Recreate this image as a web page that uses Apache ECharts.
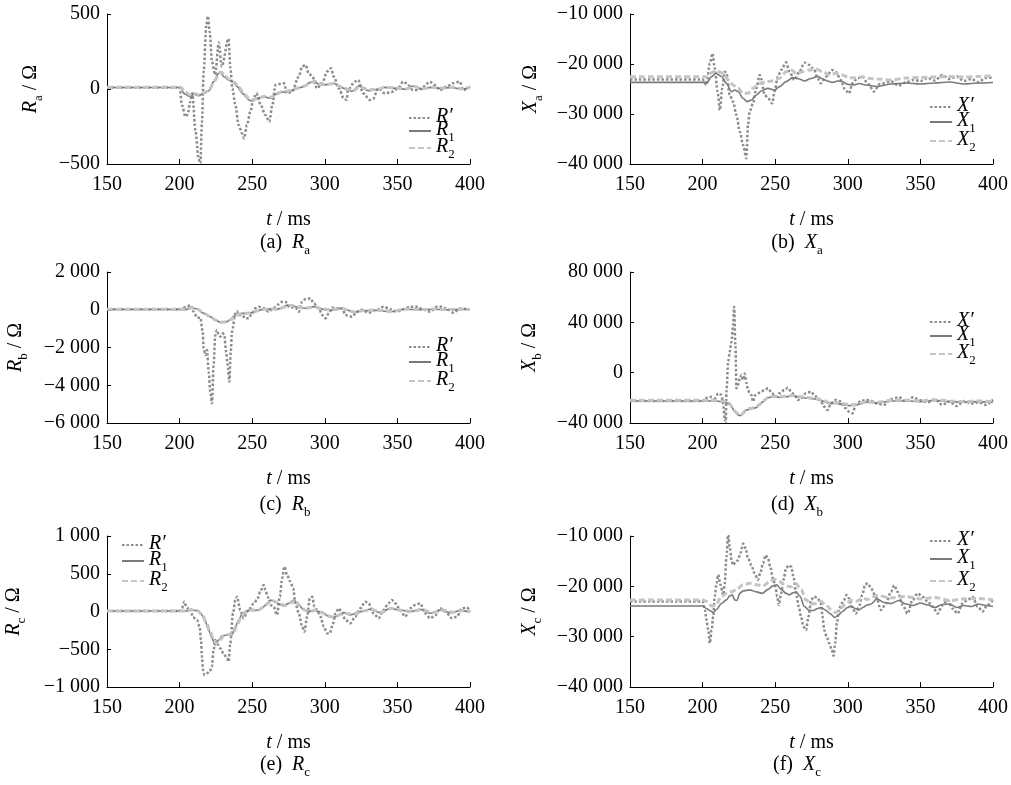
<!DOCTYPE html>
<html lang="zh">
<head>
<meta charset="UTF-8">
<title>R / X 波形</title>
<style>
    html, body { margin: 0; padding: 0; background: #fff; }
    #main { width: 1011px; height: 785px; }
</style>
<script src="https://cdn.jsdelivr.net/npm/echarts@6/dist/echarts.min.js"></script>
</head>
<body>
<div id="main"></div>
<script type="text/javascript">
    // ---- data: [t (ms), value (Ω)] ----
    // (a) Ra
    var raP = [[150,10],[200,10],[201.6,-107],[204,-184],[205.5,-170],[207.4,-84],[208.7,-29],[211,-284],[213,-462],[214.3,-495],[215.4,-218],[216.6,116],[218.4,427],[219.5,485],[220.7,382],[222.3,182],[224.5,95],[227,310],[229,150],[233.7,335],[235,138],[236.3,4],[238.4,-107],[240.7,-240],[243,-296],[244.4,-329],[246.4,-240],[248.7,-151],[251,-62],[252.9,-29],[255.9,-107],[259,-173],[261.8,-218],[263.9,-107],[266,27],[268.5,33],[271.9,38],[274,-29],[277.5,-18],[282,82],[284.4,149],[286.7,160],[289,104],[291.5,82],[294.7,4],[298.2,38],[301.6,116],[304.4,138],[306.2,82],[309.7,4],[313,-62],[315,-73],[316,-7],[320.6,49],[323,60],[326.4,-29],[331,-73],[333.3,-65],[336.7,4],[341.3,-29],[345.9,-20],[350.5,4],[354,49],[356.2,38],[360.8,-7],[364.3,-7],[367.7,15],[372.3,49],[375.7,27],[379.2,-7],[383.8,15],[388.4,38],[393,49],[395.2,-7],[400,15]];
    var ra1 = [[150,10],[201,10],[202.8,-29],[207.4,-51],[209.7,-35],[213,-44],[216.6,-29],[220,-13],[223.5,49],[226.9,104],[228,116],[230.5,82],[233.8,60],[236.3,49],[239.8,16],[243.2,-29],[247.8,-73],[250,-80],[253.5,-62],[258,-51],[262.5,-62],[266,-36],[269.4,-22],[272.9,-20],[276.3,-13],[281,4],[285.5,16],[290.1,44],[292.9,53],[295.9,31],[299.3,27],[302.8,31],[306.2,38],[309.7,20],[313.1,4],[316,-7],[319,-15],[323,20],[330,-11],[334.8,-7],[341.3,11],[350.5,4],[355,-2],[360.8,20],[366.6,-2],[373.5,11],[380,4],[387.3,11],[394,-2],[400,11]];
    var ra2 = [[150,12],[201,12],[203,-15],[207.5,-40],[210,-30],[213.5,-38],[217,-25],[220.5,-5],[224,55],[227.5,108],[229,112],[231.5,85],[234.5,62],[237.5,45],[241,10],[244.5,-35],[248.5,-70],[251,-72],[254.5,-58],[259,-48],[263,-55],[267,-30],[271,-18],[276,-10],[281,6],[286,20],[290.5,45],[293.5,50],[297,33],[301,30],[305,35],[309,22],[313,6],[317,-5],[320,-10],[324,18],[330,-5],[336,-3],[342,12],[350,6],[356,0],[361,18],[367,2],[374,12],[381,6],[388,12],[394,2],[400,10]];

    // (b) Xa
    var xaP = [[150,-23100],[200,-23100],[202.7,-24200],[205,-19870],[206.8,-17870],[208.4,-20870],[210.3,-25530],[211.9,-29200],[213.5,-24870],[215.3,-21530],[216.4,-21800],[218.7,-26200],[221,-27530],[223.3,-30200],[225.6,-33530],[227.9,-36200],[230.1,-38870],[231.3,-32200],[232.4,-29530],[234.7,-27870],[237,-24870],[239.3,-22200],[240.4,-23000],[242.7,-26200],[245,-26800],[248,-27870],[249.5,-25530],[251.8,-22530],[254.1,-21200],[257.5,-19670],[259.8,-21530],[263.2,-23200],[266.7,-21500],[270.1,-19730],[273.5,-20200],[276.9,-21200],[279.2,-22870],[281.5,-23870],[284.9,-22530],[289.5,-21200],[291.8,-21600],[295.2,-23200],[298.2,-25200],[300.9,-25870],[303.2,-23870],[306.6,-22870],[310,-22530],[314,-24000],[318,-25500],[322,-24000],[330,-23500],[335,-24300],[340,-23700],[345,-23200],[350,-23400],[355,-22800],[360,-23300],[365,-22200],[370,-23000],[375,-22500],[380,-23400],[385,-23000],[390,-23600],[395,-22800],[400,-22700]];
    var xa1 = [[150,-23670],[203,-23670],[206.2,-22530],[209.1,-21870],[213,-22500],[216.4,-23870],[219.9,-25530],[222.1,-25200],[224.4,-25500],[227.9,-26870],[230.6,-27530],[233.6,-27200],[237,-26200],[240.4,-25400],[245,-24870],[249.5,-25200],[253,-24530],[257.5,-23530],[262.1,-22730],[266.7,-23000],[270.1,-23400],[274.7,-22900],[279.2,-22470],[282.6,-23000],[286.1,-23400],[289.5,-23670],[292.9,-23400],[296.3,-23500],[299.8,-24070],[304.3,-24200],[307.8,-23900],[312.3,-24200],[320,-24500],[330,-24000],[340,-23800],[350,-24000],[360,-23800],[370,-23600],[380,-24000],[390,-23800],[400,-23700]];
    var xa2 = [[150,-22530],[203,-22530],[205,-21870],[209.6,-21400],[214.2,-21870],[217.6,-23200],[221,-24200],[224.4,-24870],[227.9,-25870],[231.3,-25870],[234.7,-24870],[239.3,-23870],[243.8,-23530],[248.4,-23400],[253,-22870],[257.5,-21530],[261,-21200],[264.4,-21870],[269,-21530],[273.5,-21200],[278.1,-21000],[282.6,-21530],[287.2,-22200],[291.8,-21870],[296.3,-22200],[300.9,-22730],[305.5,-22730],[310,-22530],[314.6,-22870],[320,-23000],[330,-23200],[340,-22800],[350,-22700],[360,-22600],[370,-22500],[380,-22600],[390,-22500],[400,-22400]];

    // (c) Rb
    var rbP = [[150,20],[200,20],[205,159],[207.4,247],[209.7,-106],[212,-419],[214.3,-419],[215.9,-1161],[216.6,-2044],[217.7,-2397],[218.9,-2132],[220,-3280],[221.1,-4340],[222.3,-4958],[223.4,-2927],[224.6,-1338],[225.7,-1073],[226.9,-1338],[228,-1426],[229.7,-1250],[230.8,-1338],[232,-2220],[233.1,-2927],[234.3,-3810],[235.2,-2220],[236.1,-1161],[238.4,-190],[239.5,-70],[240.7,-278],[243,-278],[245.3,-455],[247.6,-455],[249.9,-190],[252.2,75],[254.5,163],[257.9,75],[261.4,-102],[264.8,110],[268.3,287],[270.6,428],[272.9,428],[275.2,163],[279.8,110],[282.1,-102],[284.4,428],[286.7,570],[290.1,605],[292.4,340],[295.9,75],[298.2,-278],[300.5,-455],[302.8,-190],[305.1,110],[308.5,75],[312,75],[314.1,-280],[318.7,-370],[322.1,-100],[325.5,0],[330.1,-160],[335.9,0],[340.5,160],[345,20],[349.6,-100],[354.2,20],[358.8,160],[363.4,160],[368,0],[372.6,-100],[377.2,160],[380.6,160],[385.2,0],[388.6,-160],[393.2,70],[400,20]];
    var rb1 = [[150,20],[205,20],[207.4,110],[212,40],[216.6,-190],[221.1,-366],[224.6,-543],[228,-667],[231.5,-667],[234.9,-543],[237.2,-366],[239.5,-243],[243,-190],[246.4,-190],[249.9,-150],[253.3,-71],[257.9,35],[262.5,35],[267.1,20],[270.6,110],[274,252],[277.5,220],[282.1,110],[287.8,75],[292.4,163],[295.9,75],[301.6,-13],[306.2,-13],[310.8,75],[315.4,-13],[320,-150],[325,-50],[335,-30],[345,-100],[355,30],[365,0],[375,30],[385,0],[395,30],[400,0]];
    var rb2 = [[150,30],[205,30],[208,100],[212.5,30],[217,-200],[221.5,-380],[225,-550],[228.5,-650],[232,-640],[235.5,-520],[238,-350],[240.5,-240],[244,-200],[248,-170],[252,-90],[257,20],[263,40],[268,30],[272,130],[276,240],[280,180],[285,90],[290,110],[294,140],[298,50],[303,0],[308,20],[312,60],[316,-30],[321,-130],[327,-40],[336,-20],[346,-80],[356,40],[366,10],[376,40],[386,10],[395,30],[400,10]];

    // (d) Xb
    var xbP = [[150,-22500],[200,-22500],[201.6,-20400],[203.9,-20000],[206.2,-19070],[208.4,-20400],[210.7,-16430],[213,-17700],[214.2,-24700],[215.3,-37600],[216,-39000],[216.4,-15100],[217.6,8700],[218.7,16700],[219.9,24600],[221,37900],[221.7,52400],[222.6,21800],[223.3,-12400],[224.4,-9800],[225.6,-4500],[226.7,-1850],[227.9,-5800],[229,-700],[230.1,-8000],[231.3,-13800],[232.4,-16400],[233.6,-17700],[234.7,-23000],[236.3,-17700],[238.1,-16400],[240.4,-15100],[242.7,-13800],[245,-12400],[247.9,-16400],[250.2,-19100],[253,-16400],[256.4,-13800],[258.7,-11900],[261,-15100],[263.2,-17700],[265.5,-21700],[267.8,-20400],[271.2,-16400],[274.7,-15100],[276.9,-17700],[279.2,-20400],[281.5,-23000],[283.8,-27000],[286.1,-29700],[288.4,-24400],[291.8,-21700],[295.2,-23000],[298.6,-28300],[300.9,-31000],[303.2,-32300],[305.5,-25700],[308.9,-22500],[312.3,-21700],[315,-22000],[320,-24500],[325,-25500],[330,-21000],[335,-19500],[340,-22500],[345,-19500],[350,-22000],[355,-23500],[360,-21500],[365,-25500],[370,-23000],[375,-26500],[380,-22500],[385,-24500],[390,-23500],[395,-25500],[400,-21500]];
    var xb1 = [[150,-22500],[205,-22500],[209.6,-22500],[214.2,-23300],[217.6,-24400],[219.9,-27000],[222.1,-31000],[224.4,-33600],[226,-34200],[227.9,-32400],[230.1,-29700],[233.6,-28900],[237,-27800],[239.3,-25700],[241.6,-23000],[245,-19900],[248.4,-19100],[253,-19600],[257.5,-19100],[262.1,-18300],[265.5,-19100],[269,-19900],[273.5,-20400],[278.1,-21000],[282.6,-22500],[287.2,-24400],[291.8,-24400],[296.3,-25200],[300.9,-26200],[305,-26000],[308.9,-24700],[312.3,-23400],[320,-24000],[330,-22500],[340,-22500],[350,-23000],[360,-22000],[370,-23000],[380,-23500],[390,-23000],[400,-23500]];
    var xb2 = [[150,-22000],[205,-22000],[210,-22000],[214.5,-22800],[218,-24000],[220.5,-27500],[223,-31500],[225,-33200],[227,-33000],[229.5,-30000],[232.5,-28500],[236.5,-27500],[239.5,-25000],[242,-22200],[245.5,-19300],[249,-18800],[253.5,-19200],[258,-18800],[262.5,-18000],[266,-18900],[270,-19500],[274,-20000],[279,-20800],[283,-22000],[287.5,-23800],[292,-24000],[297,-24700],[301,-25500],[305.5,-25300],[309,-24200],[313,-23000],[320,-23500],[330,-22000],[340,-22000],[350,-22500],[360,-21500],[370,-22500],[380,-23000],[390,-22500],[400,-23000]];

    // (e) Rc
    var rcP = [[150,6],[200,6],[201.6,42],[203.2,130],[205,42],[207.4,42],[209.2,-77],[212,-113],[213.8,-200],[214.7,-377],[215.4,-598],[216.1,-775],[217.2,-841],[218.9,-819],[220.7,-797],[222.3,-731],[223.4,-510],[224.6,-377],[225.7,-420],[228,-488],[230.3,-554],[232.6,-620],[233.8,-664],[234.9,-422],[236.8,-24],[238.4,152],[239.5,196],[241.8,20],[244.1,-90],[246.4,-2],[248.7,42],[251,108],[253.3,152],[255.6,263],[257.9,351],[259.1,285],[260.7,196],[262.5,86],[264.8,64],[267.1,-46],[269,196],[270.6,439],[272.2,594],[274,483],[276.3,395],[278.2,307],[279.8,108],[282.1,-24],[284.4,-200],[286,-267],[287.8,-68],[289.7,174],[291.3,196],[292.9,64],[294.7,20],[297,-68],[299.3,-200],[301.6,-289],[303.4,-289],[305.7,-157],[307.4,-24],[309.7,42],[312,-40],[314.3,-113],[317.5,-157],[320.9,-68],[324.4,42],[327.8,130],[330.1,108],[333.6,-24],[337,-90],[340.5,20],[343.9,108],[346.2,152],[348.5,108],[351.9,20],[355.4,-68],[358.8,42],[362.3,86],[365.7,108],[369.2,-24],[372.6,-90],[376.1,-50],[379.5,42],[383,0],[387.6,-90],[391,-68],[394.5,42],[397.9,55],[400,0]];
    var rc1 = [[150,6],[205,6],[207.4,20],[212,11],[215.4,-46],[217.7,-134],[220,-245],[222.3,-355],[224.6,-444],[226.9,-377],[229.2,-325],[232.6,-311],[236.1,-311],[238.4,-200],[240.7,-113],[243,-33],[245.3,-2],[247.6,20],[251,11],[254.5,20],[257.9,64],[260.2,108],[262.5,152],[264.8,139],[268.3,99],[271.7,73],[275.2,108],[278.6,152],[282.1,86],[285.5,20],[289,-2],[292.4,20],[295.9,-2],[299.3,-24],[302.8,-68],[306.2,-77],[309.7,-46],[313.1,-15],[317.5,-46],[324.4,-2],[331.3,29],[338.2,-15],[345,42],[351.9,20],[358.8,-2],[365.7,29],[372.6,-24],[379.5,20],[386.4,-15],[393.3,11],[400,-5]];
    var rc2 = [[150,8],[205,8],[208,22],[212.5,10],[216,-55],[218.5,-150],[221,-265],[223.5,-375],[225.5,-430],[228,-370],[230.5,-320],[234,-305],[237,-290],[239.5,-180],[242,-90],[244.5,-20],[247,10],[250,20],[254,15],[258,60],[261,110],[263.5,150],[266,130],[269.5,95],[273,80],[276.5,115],[279.5,145],[283,75],[286.5,15],[290.5,5],[294,15],[297.5,-10],[301,-40],[304.5,-70],[308,-65],[311.5,-30],[315,-25],[320,-40],[326,5],[332,25],[339,-10],[346,40],[353,15],[360,0],[367,25],[374,-15],[381,20],[388,-10],[395,10],[400,0]];

    // (f) Xc
    var xcP = [[150,-23000],[200,-23000],[201.6,-24700],[202.7,-26700],[203.9,-28700],[205,-31300],[206.2,-28700],[207.3,-26000],[208.4,-22000],[209.6,-19400],[210.7,-17700],[212.3,-19700],[214.2,-21700],[215.3,-19400],[216.4,-14100],[217.6,-9800],[218.7,-12100],[219.9,-14800],[221,-15800],[222.8,-15100],[224.4,-14800],[226,-13400],[227.9,-11500],[229.5,-12400],[231.3,-14400],[233.6,-15800],[235.8,-17400],[238.1,-18700],[239.7,-17400],[241.6,-15400],[243.4,-13800],[245,-14400],[246.6,-16100],[248.4,-18400],[250.2,-20100],[251.4,-22000],[252.5,-23700],[254.1,-21400],[255.7,-18700],[257.5,-16400],[259.4,-15800],[261,-16100],[262.6,-18100],[264.4,-21400],[266.2,-24000],[267.8,-26000],[269.4,-28000],[271.2,-28700],[273,-26000],[274.7,-22700],[276.9,-22000],[279.2,-22400],[281.5,-23400],[282.6,-26000],[283.8,-28700],[285.4,-30000],[287.2,-31300],[289,-32600],[290.2,-33800],[291.3,-31300],[292.5,-27300],[294.1,-24400],[295.9,-23400],[297.5,-22700],[299.1,-21700],[300.9,-22400],[303.2,-24400],[305.5,-25400],[307.8,-24000],[310,-21700],[311.9,-19700],[313.7,-19400],[316,-20400],[319.4,-22100],[322.9,-24700],[326.3,-23400],[329.7,-21100],[332,-19800],[334.3,-21100],[337.8,-23700],[341.2,-25400],[344.6,-22700],[348.1,-21400],[351.5,-22100],[355,-23000],[358.4,-24000],[361.8,-25400],[365.3,-23700],[368.7,-22700],[372.1,-24400],[375.6,-25400],[379,-23400],[382.5,-22700],[385.9,-22100],[389.4,-24000],[392.8,-25000],[396.2,-23700],[400,-22700]];
    var xc1 = [[150,-23900],[200,-23900],[202.7,-24400],[205,-24800],[207.3,-25200],[209.6,-24600],[213,-23400],[216.4,-22700],[218.7,-21900],[220.5,-21700],[222.1,-22700],[223.7,-22800],[225.6,-21400],[227.9,-20900],[232.4,-20700],[237,-21100],[241.1,-21400],[245,-20600],[248.4,-19900],[251.1,-19700],[254.1,-20600],[257.5,-21400],[259.8,-21700],[262.1,-21300],[264.4,-21100],[267.1,-22000],[270.1,-24000],[273.5,-24800],[276.3,-24800],[279.2,-24400],[281.5,-24200],[284.5,-24700],[287.7,-25400],[291.1,-26200],[293.6,-25700],[296.3,-25000],[299.8,-24200],[302.1,-23900],[305,-24400],[307.8,-24700],[310.5,-24200],[313.5,-23700],[316,-23500],[320,-22500],[325,-23200],[330,-23400],[335,-22800],[340,-23500],[345,-23800],[350,-23300],[355,-23700],[360,-24200],[365,-23600],[370,-23500],[375,-24200],[380,-23800],[385,-24000],[390,-23500],[395,-23800],[400,-24000]];
    var xc2 = [[150,-22700],[200,-22700],[202.7,-23000],[206.2,-23900],[209.1,-23700],[213,-22000],[216.4,-21400],[219.9,-21100],[223.3,-20600],[227.9,-19700],[232.4,-19400],[237,-19700],[241.6,-19900],[246.1,-19100],[249.5,-18600],[253,-19100],[257.5,-19900],[261,-20100],[264.4,-19500],[267.8,-20600],[271.2,-22700],[274.7,-23500],[278.1,-23400],[281.5,-23000],[284.9,-23700],[288.4,-24600],[291.8,-25200],[295.2,-24300],[298.6,-23500],[302.1,-22800],[305.5,-23000],[310,-22400],[313.5,-22600],[320,-21800],[330,-22300],[340,-22000],[350,-22500],[360,-22200],[370,-22800],[380,-22500],[390,-22400],[400,-22700]];

    // axis ranges [min, max, interval]
    var tRange = [150, 400, 50];
    var yRanges = {
        a: [-500, 500, 500],
        b: [-40000, -10000, 10000],
        c: [-6000, 2000, 2000],
        d: [-40000, 80000, 40000],
        e: [-1000, 1000, 500],
        f: [-40000, -10000, 10000]
    };

    var FONT = 'Liberation Serif';
    var rich = {
        n: { fontFamily: FONT, fontSize: 20, color: '#000', verticalAlign: 'top', lineHeight: 22 },
        i: { fontFamily: FONT, fontSize: 20, color: '#000', fontStyle: 'italic', verticalAlign: 'top', lineHeight: 22 },
        s: { fontFamily: FONT, fontSize: 13, color: '#000', verticalAlign: 'top', lineHeight: 13, padding: [11, 0, 0, 0] }
    };

    // 面板布局
    var panels = [
        { id: 'a', sym: 'R', sub: 'a', grid: [107, 14, 363, 150], data: [raP, ra1, ra2], legend: [408, 107, -7], nameGap: 64, cap: [285, 244] },
        { id: 'b', sym: 'X', sub: 'a', grid: [630, 14, 364, 150], data: [xaP, xa1, xa2], legend: [929, 96, -5], nameGap: 87, cap: [797, 244] },
        { id: 'c', sym: 'R', sub: 'b', grid: [107, 272, 363, 151], data: [rbP, rb1, rb2], legend: [408, 336, -5], nameGap: 79, cap: [285, 506] },
        { id: 'd', sym: 'X', sub: 'b', grid: [630, 272, 364, 151], data: [xbP, xb1, xb2], legend: [929, 311, -6], nameGap: 88, cap: [797, 506] },
        { id: 'e', sym: 'R', sub: 'c', grid: [107, 536, 363, 151], data: [rcP, rc1, rc2], legend: [121, 534, -4], nameGap: 81, cap: [285, 766] },
        { id: 'f', sym: 'X', sub: 'c', grid: [630, 536, 364, 151], data: [xcP, xc1, xc2], legend: [929, 530, -2], nameGap: 88, cap: [797, 766] }
    ];

    var lineStyles = [
        { color: '#8c8c8c', width: 2.5, type: [2.5, 2] },
        { color: '#7a7a7a', width: 1.6, type: 'solid' },
        { color: '#c4c4c4', width: 3, type: [6, 3] }
    ];

    function fmtY(v) {
        var s = String(Math.abs(v)).replace(/\B(?=(\d{3})+(?!\d))/g, ' ');
        return (v < 0 ? '\u2212' : '') + s;
    }

    var option = { animation: false, backgroundColor: '#fff', grid: [], xAxis: [], yAxis: [], series: [], legend: [], graphic: [] };

    panels.forEach(function (p, k) {
        var yr = yRanges[p.id];
        option.grid.push({ left: p.grid[0], top: p.grid[1], width: p.grid[2], height: p.grid[3], containLabel: false });
        option.xAxis.push({
            gridIndex: k, type: 'value', min: tRange[0], max: tRange[1], interval: tRange[2],
            name: '{i|t}{n| / ms}', nameLocation: 'middle', nameGap: 46,
            nameTextStyle: { rich: rich },
            axisLine: { show: true, onZero: false, lineStyle: { color: '#000', width: 1 } },
            axisTick: { show: true, inside: true, length: 5, lineStyle: { color: '#000' } },
            axisLabel: { fontFamily: FONT, fontSize: 20, color: '#000', margin: 11 },
            splitLine: { show: false }
        });
        option.yAxis.push({
            gridIndex: k, type: 'value', min: yr[0], max: yr[1], interval: yr[2],
            name: '{i|' + p.sym + '}{s|' + p.sub + '}{n| / Ω}', nameLocation: 'middle', nameRotate: 90, nameGap: p.nameGap,
            nameTextStyle: { rich: rich },
            axisLine: { show: true, onZero: false, lineStyle: { color: '#000', width: 1 } },
            axisTick: { show: true, inside: true, length: 4, lineStyle: { color: '#000' } },
            axisLabel: { fontFamily: FONT, fontSize: 20, color: '#000', margin: 7, formatter: fmtY },
            splitLine: { show: false }
        });
        p.data.forEach(function (d, j) {
            option.series.push({
                name: p.id + j, type: 'line', xAxisIndex: k, yAxisIndex: k,
                data: d, symbol: 'none', showSymbol: false, smooth: 0.3, smoothMonotone: 'x',
                itemStyle: { color: lineStyles[j].color },
                lineStyle: lineStyles[j]
            });
        });
        option.legend.push({
            orient: 'vertical', left: p.legend[0], top: p.legend[1], itemGap: p.legend[2],
            itemWidth: 22, itemHeight: 10, padding: 0, selectedMode: false,
            itemStyle: { opacity: 0 },
            data: [p.id + '0', p.id + '1', p.id + '2'],
            formatter: function (name) {
                var j = name.charAt(1);
                return j === '0' ? '{i|' + p.sym + '\u2032}' : '{i|' + p.sym + '}{s|' + j + '}';
            },
            textStyle: { rich: rich }
        });
        option.graphic.push({
            type: 'text', x: p.cap[0], y: p.cap[1],
            style: {
                text: '{n|(' + p.id + ')  }{i|' + p.sym + '}{s|' + p.sub + '}',
                rich: rich, align: 'center', verticalAlign: 'middle'
            }
        });
    });

    var myChart = echarts.init(document.getElementById('main'));
    myChart.setOption(option);
</script>
</body>
</html>
